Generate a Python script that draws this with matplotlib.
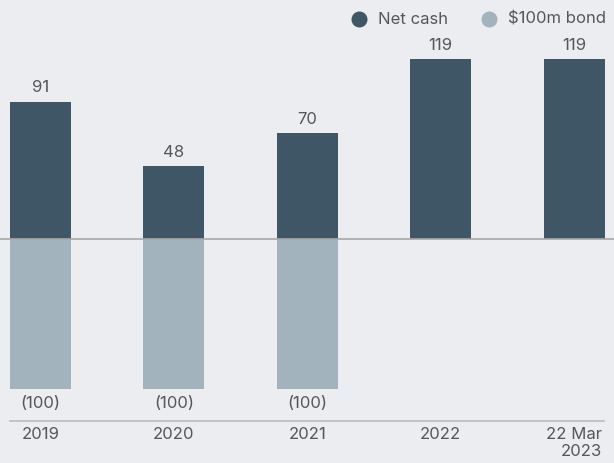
import numpy as np
import matplotlib.pyplot as plt

# data
categories = ['2019', '2020', '2021', '2022', '22 Mar\n2023']
net_cash = [91, 48, 70, 119, 119]
bond = [-100, -100, -100, 0, 0]
bond_labels = ['(100)', '(100)', '(100)', '', '']

dark = '#3e5666'
light = '#a3b3be'
bg = '#ecedf0'
txt = '#555759'

plt.rcParams['font.family'] = ['Inter', 'DejaVu Sans']

fig = plt.figure(figsize=(6.14, 4.63), dpi=100, facecolor=bg)
ax = fig.add_axes([0, 0, 1, 1], facecolor=bg)

x = np.arange(len(categories))
w = 0.457
ax.bar(x, bond, width=w, color=light, zorder=2)
ax.bar(x, net_cash, width=w, color=dark, zorder=2)
ax.axhline(0, color='#a8a8a8', lw=1.2, zorder=3)

fs = 12
for i, v in enumerate(net_cash):
    ax.annotate(str(v), (x[i], v), xytext=(0, 10), textcoords='offset points',
                ha='center', va='center', fontsize=fs, color=txt)
for i, v in enumerate(bond):
    if bond_labels[i]:
        ax.annotate(bond_labels[i], (x[i], v), xytext=(0, -10.5), textcoords='offset points',
                    ha='center', va='center', fontsize=fs, color=txt)

ax.set_xlim(-0.3036, 4.299)
ax.set_ylim(-149.0, 158.5)
ax.axis('off')

# bottom separator and category labels
fig.add_artist(plt.Line2D([10 / 614, 604 / 614], [1 - 421 / 463] * 2, color='#bcbcbc', lw=1.2))
for i, c in enumerate(categories):
    ax.text(x[i], -149.0 + (463 - 427) / 1.505, c, ha='center', va='top',
            fontsize=fs, color=txt, multialignment='right', linespacing=1.2)

# legend
for cx, col, lab in [(359, dark, 'Net cash'), (489, light, '$100m bond')]:
    fig.add_artist(plt.Line2D([cx / 614], [1 - 19 / 463], marker='o', ms=10.5, color=col, lw=0))
    fig.text((cx + 19) / 614, 1 - 19 / 463, lab, ha='left', va='center', fontsize=fs, color=txt)

fig.savefig('out.png', dpi=100, facecolor=bg)
